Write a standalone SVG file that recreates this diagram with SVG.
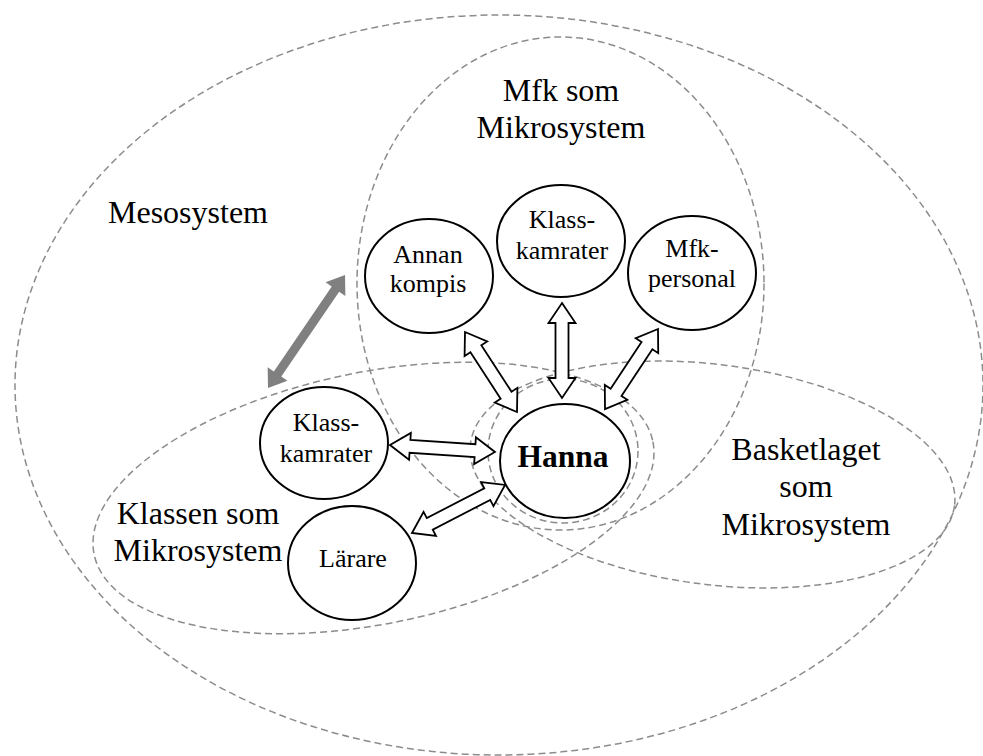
<svg xmlns="http://www.w3.org/2000/svg" width="983" height="756" viewBox="0 0 983 756">
  <style>
    .sys { fill: none; stroke: #8c8c8c; stroke-width: 1.5; stroke-dasharray: 7 4; }
    .node { fill: #fff; stroke: #000; stroke-width: 2; }
    .lbl { font-family: "Liberation Serif", "Times New Roman", serif; font-size: 32px; fill: #000; text-anchor: middle; }
    .nt { font-family: "Liberation Serif", "Times New Roman", serif; font-size: 26px; fill: #000; text-anchor: middle; }
    .bold { font-weight: bold; font-size: 31.5px; }
    .arr { fill: #fff; stroke: #000; stroke-width: 1.8; stroke-linejoin: miter; }
    .gray { fill: #808080; stroke: none; }
  </style>

  <!-- system boundaries -->
  <g id="systems">
    <ellipse id="mesosystem" class="sys" cx="499" cy="385" rx="484" ry="370"/>
    <ellipse id="mfk" class="sys" cx="560.5" cy="283.5" rx="203.5" ry="246.5"/>
    <ellipse id="klassen" class="sys" cx="373.5" cy="498" rx="285" ry="126" transform="rotate(-11.4 373.5 498)"/>
    <ellipse id="basketlaget" class="sys" cx="712.5" cy="474.5" rx="244" ry="110" transform="rotate(7.3 712.5 474.5)"/>
    <ellipse id="hanna-ring" class="sys" cx="563" cy="451" rx="75" ry="72"/>
  </g>

  <!-- system labels -->
  <g id="labels">
    <text class="lbl" x="188" y="223">Mesosystem</text>
    <text class="lbl" x="561" y="101">Mfk som</text>
    <text class="lbl" x="561" y="138">Mikrosystem</text>
    <text class="lbl" x="198" y="524">Klassen som</text>
    <text class="lbl" x="198" y="561">Mikrosystem</text>
    <text class="lbl" x="806" y="460">Basketlaget</text>
    <text class="lbl" x="806" y="497">som</text>
    <text class="lbl" x="806" y="535">Mikrosystem</text>
  </g>

  <!-- connectors: hollow two-way arrows and the grey mesosystem arrow -->
  <g id="connectors">
    <polygon class="gray" transform="translate(268 388) rotate(-55.7)" points="0,0 17,-12 17,-4.5 119.7,-4.5 119.7,-12 136.7,0 119.7,12 119.7,4.5 17,4.5 17,12"/>
    <polygon class="arr" transform="translate(465 332) rotate(56.98)" points="0,0 20,-13.5 20,-6.5 75.4,-6.5 75.4,-13.5 95.4,0 75.4,13.5 75.4,6.5 20,6.5 20,13.5"/>
    <polygon class="arr" transform="translate(562 303) rotate(90)" points="0,0 20,-13.5 20,-6.5 75,-6.5 75,-13.5 95,0 75,13.5 75,6.5 20,6.5 20,13.5"/>
    <polygon class="arr" transform="translate(658 329) rotate(123.5)" points="0,0 20,-13.5 20,-6.5 76,-6.5 76,-13.5 96,0 76,13.5 76,6.5 20,6.5 20,13.5"/>
    <polygon class="arr" transform="translate(390 445) rotate(3.81)" points="0,0 20,-13.5 20,-6.5 85.2,-6.5 85.2,-13.5 105.2,0 85.2,13.5 85.2,6.5 20,6.5 20,13.5"/>
    <polygon class="arr" transform="translate(412 533) rotate(-27.3)" points="0,0 20,-13.5 20,-6.5 84.7,-6.5 84.7,-13.5 104.7,0 84.7,13.5 84.7,6.5 20,6.5 20,13.5"/>
  </g>

  <g id="annan-kompis">
    <ellipse class="node" cx="429" cy="276" rx="64" ry="57"/>
    <text class="nt" x="428" y="263">Annan</text>
    <text class="nt" x="428" y="292">kompis</text>
  </g>
  <g id="mfk-klasskamrater">
    <ellipse class="node" cx="561" cy="241" rx="64" ry="56"/>
    <text class="nt" x="562" y="228">Klass-</text>
    <text class="nt" x="562" y="259">kamrater</text>
  </g>
  <g id="mfk-personal">
    <ellipse class="node" cx="692" cy="273" rx="64" ry="57"/>
    <text class="nt" x="692" y="257">Mfk-</text>
    <text class="nt" x="692" y="287">personal</text>
  </g>
  <g id="klassen-klasskamrater">
    <ellipse class="node" cx="324" cy="443" rx="64" ry="56"/>
    <text class="nt" x="326" y="431">Klass-</text>
    <text class="nt" x="326" y="462">kamrater</text>
  </g>
  <g id="larare">
    <ellipse class="node" cx="352" cy="563" rx="64" ry="57"/>
    <text class="nt" x="353" y="567">Lärare</text>
  </g>
  <g id="hanna">
    <ellipse class="node" cx="565" cy="461" rx="65" ry="57"/>
    <text class="nt bold" x="563" y="467">Hanna</text>
  </g>
</svg>
